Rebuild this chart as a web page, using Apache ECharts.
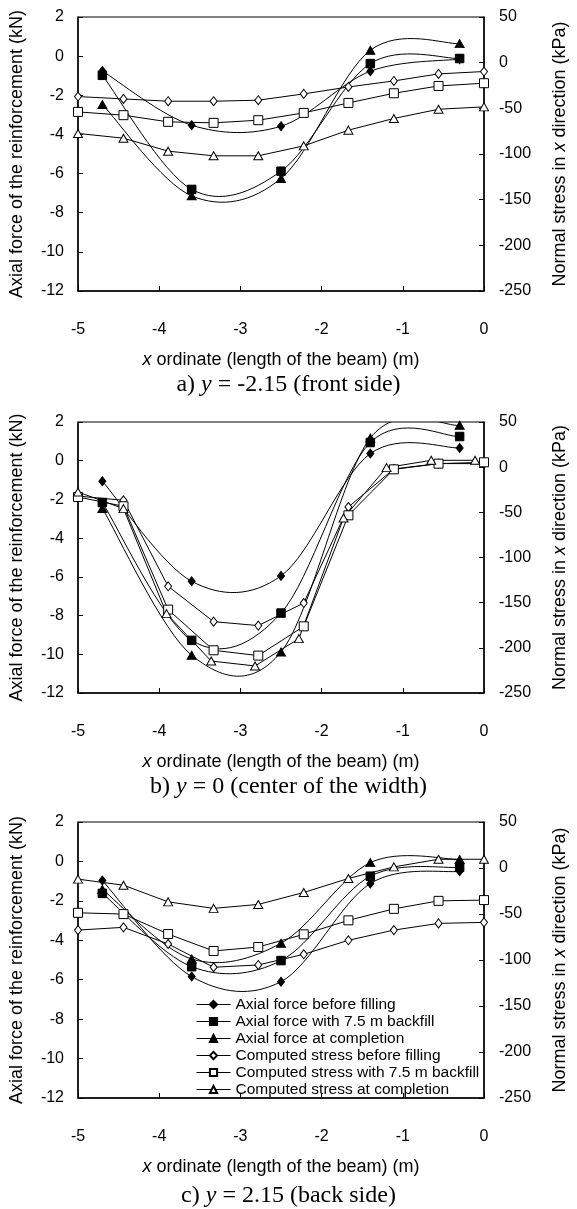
<!DOCTYPE html>
<html>
<head>
<meta charset="utf-8">
<script src="https://cdn.jsdelivr.net/npm/echarts@6/dist/echarts.min.js"></script>
<style>
html,body{margin:0;padding:0;background:#fff;}
#chart{width:577px;height:1209px;}
</style>
</head>
<body>
<div id="chart"></div>
<script>
// ---- Data ----
const seriesNames = [
  'Axial force before filling',
  'Axial force with 7.5 m backfill',
  'Axial force at completion',
  'Computed stress before filling',
  'Computed stress with 7.5 m backfill',
  'Computed stress at completion'
];
const captions = [
  'a) {i|y} = -2.15 (front side)',
  'b) {i|y} = 0 (center of the width)',
  'c) {i|y} = 2.15 (back side)'
];
const xTickValues = [-5, -4, -3, -2, -1, 0];

// x positions (m)
const xAxial = [-4.7, -3.6, -2.5, -1.4, -0.3];
const xStress = [-5, -4.44, -3.89, -3.33, -2.78, -2.22, -1.67, -1.11, -0.56, 0];
const xStressCompletionB = [-5, -4.44, -3.91, -3.36, -2.82, -2.28, -1.73, -1.2, -0.65, -0.11];

// a) y = -2.15
const axialBeforeA = [-0.76, -3.53, -3.58, -0.77, -0.15];
const axialBackfillA = [-0.98, -6.81, -5.88, -0.38, -0.12];
const axialCompletionA = [-2.47, -7.14, -6.25, 0.30, 0.64];
const stressBeforeA = [-37.1, -39.7, -42.2, -42.2, -41.1, -34.2, -26.6, -20.0, -12.3, -9.7];
const stressBackfillA = [-53.9, -57.5, -64.8, -65.9, -63.0, -55.0, -44.1, -33.5, -25.5, -22.5];
const stressCompletionA = [-77.5, -82.7, -96.9, -102.0, -102.0, -91.1, -73.9, -61.1, -51.0, -48.4];

// b) y = 0
const axialBeforeB = [-1.06, -6.23, -5.95, 0.37, 0.66];
const axialBackfillB = [-2.16, -9.28, -7.87, 0.94, 1.25];
const axialCompletionB = [-2.47, -10.05, -9.88, 1.17, 1.83];
const stressBeforeB = [-32.0, -36.7, -131.9, -171.0, -175.4, -150.4, -44.1, -2.0, 4.0, 3.9];
const stressBackfillB = [-33.0, -43.3, -157.7, -202.7, -208.6, -176.2, -53.3, -2.4, 3.9, 5.4];
const stressCompletionB = [-27.5, -45.9, -162.1, -214.6, -220.1, -189.8, -56.3, -0.5, 7.6, 7.6];

// c) y = 2.15
const axialBeforeC = [-0.97, -5.84, -6.10, -1.12, -0.50];
const axialBackfillC = [-1.62, -5.34, -5.03, -0.75, -0.30];
const axialCompletionC = [-1.42, -4.95, -4.15, -0.06, 0.10];
const stressBeforeC = [-67.5, -64.5, -82.6, -107.9, -105.4, -93.8, -78.6, -67.5, -60.2, -59.1];
const stressBackfillC = [-48.7, -50.1, -71.8, -90.2, -85.9, -72.1, -56.9, -44.4, -35.7, -34.9];
const stressCompletionC = [-12.1, -18.7, -36.8, -43.9, -39.6, -26.6, -11.4, 1.2, 9.5, 9.5];

// ---- Chart ----
const FONT = 'Liberation Sans';
const NAME_SIZE = 18;
const TICK_SIZE = 16;
const panels = [
  {grid: {left: 77, top: 17, width: 417, height: 274},
   axial: [axialBeforeA, axialBackfillA, axialCompletionA],
   stress: [stressBeforeA, stressBackfillA, stressCompletionA],
   stressX: [xStress, xStress, xStress], captionTop: 373},
  {grid: {left: 76, top: 422, width: 414, height: 271},
   axial: [axialBeforeB, axialBackfillB, axialCompletionB],
   stress: [stressBeforeB, stressBackfillB, stressCompletionB],
   stressX: [xStress, xStress, xStressCompletionB], captionTop: 775},
  {grid: {left: 75, top: 822, width: 418, height: 276},
   axial: [axialBeforeC, axialBackfillC, axialCompletionC],
   stress: [stressBeforeC, stressBackfillC, stressCompletionC],
   stressX: [xStress, xStress, xStress], captionTop: 1184}
];

const symbols = [
  {symbol: 'diamond', size: [7, 9], fill: '#000'},
  {symbol: 'rect', size: 8.5, fill: '#000'},
  {symbol: 'triangle', size: [9, 8], fill: '#000'},
  {symbol: 'diamond', size: [7, 9], fill: '#fff'},
  {symbol: 'rect', size: 9, fill: '#fff'},
  {symbol: 'triangle', size: [9, 8], fill: '#fff'}
];

// Smooth curve (Catmull-Rom bezier) through data points, via the axes' own coord conversion
function curveSeries(xs, ys, gridIdx, yIdx) {
  const n = xs.length;
  return {
    type: 'custom', xAxisIndex: gridIdx, yAxisIndex: yIdx, clip: true, silent: true, z: 2,
    data: xs.map((x, j) => [x, ys[j]]),
    encode: {x: 0, y: 1},
    renderItem: function (params, api) {
      const j = params.dataIndex;
      if (j >= n - 1) return null;
      const P = k => { const c = Math.max(0, Math.min(n - 1, k)); return api.coord([xs[c], ys[c]]); };
      const p0 = P(j - 1), p1 = P(j), p2 = P(j + 1), p3 = P(j + 2);
      const cs = params.coordSys;
      return {
        type: 'group',
        children: [{
          type: 'bezierCurve',
          shape: {
            x1: p1[0], y1: p1[1], x2: p2[0], y2: p2[1],
            cpx1: p1[0] + (p2[0] - p0[0]) / 6, cpy1: p1[1] + (p2[1] - p0[1]) / 6,
            cpx2: p2[0] - (p3[0] - p1[0]) / 6, cpy2: p2[1] - (p3[1] - p1[1]) / 6
          },
          style: {stroke: '#000', fill: 'none', lineWidth: 1}
        }],
        clipPath: {type: 'rect', shape: {x: cs.x, y: cs.y, width: cs.width, height: cs.height}}
      };
    }
  };
}

const grids = [], xAxes = [], yAxes = [], series = [], titles = [];
panels.forEach((p, i) => {
  grids.push(Object.assign({show: true, borderColor: '#000', borderWidth: 1, backgroundColor: 'transparent'}, p.grid));
  xAxes.push({
    gridIndex: i, type: 'value', min: -5, max: 0, interval: 1,
    name: '{i|x} ordinate (length of the beam) (m)', nameLocation: 'middle', nameGap: 60,
    nameTextStyle: {fontFamily: FONT, fontSize: NAME_SIZE, color: '#000', rich: {i: {fontStyle: 'italic', fontFamily: FONT, fontSize: NAME_SIZE}}},
    axisLine: {show: true, onZero: false, lineStyle: {color: '#000', width: 1.5}},
    axisTick: {show: true, inside: true, length: 5, lineStyle: {color: '#000'}},
    axisLabel: {margin: 31, fontFamily: FONT, fontSize: TICK_SIZE, color: '#000',
      formatter: v => xTickValues.indexOf(v) >= 0 ? String(v) : ''},
    splitLine: {show: false}
  });
  yAxes.push({
    gridIndex: i, type: 'value', position: 'left', min: -12, max: 2, interval: 2,
    name: 'Axial force of the reinforcement (kN)', nameLocation: 'middle', nameGap: 52,
    nameTextStyle: {fontFamily: FONT, fontSize: NAME_SIZE, color: '#000'},
    axisLine: {show: true, onZero: false, lineStyle: {color: '#000', width: 1.5}},
    axisTick: {show: true, inside: true, length: 5, lineStyle: {color: '#000'}},
    axisLabel: {margin: 14, fontFamily: FONT, fontSize: TICK_SIZE, color: '#000'},
    splitLine: {show: false}
  });
  yAxes.push({
    gridIndex: i, type: 'value', position: 'right', min: -250, max: 50, interval: 50,
    name: 'Normal stress in {i|x} direction (kPa)', nameLocation: 'middle', nameGap: 67,
    nameTextStyle: {fontFamily: FONT, fontSize: NAME_SIZE, color: '#000', rich: {i: {fontStyle: 'italic', fontFamily: FONT, fontSize: NAME_SIZE}}},
    axisLine: {show: true, onZero: false, lineStyle: {color: '#000', width: 1.5}},
    axisTick: {show: true, inside: true, length: 5, lineStyle: {color: '#000'}},
    axisLabel: {margin: 15, fontFamily: FONT, fontSize: TICK_SIZE, color: '#000'},
    splitLine: {show: false}
  });
  p.axial.forEach((vals, k) => {
    const s = symbols[k];
    series.push({
      name: seriesNames[k], type: 'line', xAxisIndex: i, yAxisIndex: 2 * i,
      data: xAxial.map((x, j) => [x, vals[j]]),
      symbol: s.symbol, symbolSize: s.size, showAllSymbol: true,
      lineStyle: {color: '#000', width: 1, opacity: 0},
      itemStyle: {color: s.fill, borderColor: '#000', borderWidth: 1},
      z: 3
    });
    series.push(curveSeries(xAxial, vals, i, 2 * i));
  });
  p.stress.forEach((vals, k) => {
    const s = symbols[k + 3];
    const xs = p.stressX[k];
    series.push({
      name: seriesNames[k + 3], type: 'line', xAxisIndex: i, yAxisIndex: 2 * i + 1,
      data: xs.map((x, j) => [x, vals[j]]),
      smooth: false, symbol: s.symbol, symbolSize: s.size, showAllSymbol: true,
      lineStyle: {color: '#000', width: 1},
      itemStyle: {color: s.fill, borderColor: '#000', borderWidth: 1},
      z: 2
    });
  });
  titles.push({
    text: captions[i], left: 'center', top: p.captionTop, padding: 0,
    textStyle: {fontFamily: 'Liberation Serif', fontSize: 24, fontWeight: 'normal', color: '#000',
      rich: {i: {fontStyle: 'italic', fontFamily: 'Liberation Serif', fontSize: 24}}}
  });
});

const chart = echarts.init(document.getElementById('chart'), null, {renderer: 'canvas'});
chart.setOption({
  animation: false,
  backgroundColor: '#fff',
  textStyle: {fontFamily: FONT, color: '#000'},
  title: titles,
  legend: {
    data: seriesNames.map(n => ({name: n, lineStyle: {color: '#000', width: 1, opacity: 1}})),
    orient: 'vertical', left: 196, top: 996, padding: 0,
    itemWidth: 34, itemHeight: 9, itemGap: 0,
    textStyle: {fontFamily: FONT, fontSize: 15.5, color: '#000', lineHeight: 17},
    selectedMode: false
  },
  grid: grids,
  xAxis: xAxes,
  yAxis: yAxes,
  series: series
});
</script>
</body>
</html>
